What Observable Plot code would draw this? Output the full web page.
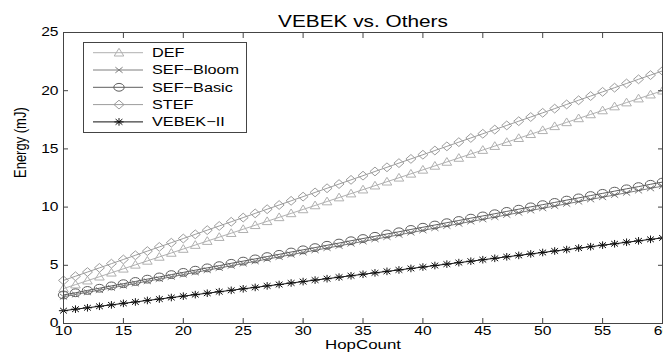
<!DOCTYPE html>
<html><head><meta charset="utf-8">
<script src="https://cdn.jsdelivr.net/npm/d3@7"></script>
<script src="https://cdn.jsdelivr.net/npm/@observablehq/plot@0.6"></script>
<style>
body{margin:0;background:#fff;}
#wrap{position:relative;width:663px;height:352px;overflow:hidden;font-family:"Liberation Sans",Arial,sans-serif;}
#wrap svg{display:block;}
#legend{position:absolute;left:83px;top:42px;}
</style></head><body><div id="wrap"></div>
<script>
const hopCounts = [10,11,12,13,14,15,16,17,18,19,20,21,22,23,24,25,26,27,28,29,30,31,32,33,34,35,36,37,38,39,40,41,42,43,44,45,46,47,48,49,50,51,52,53,54,55,56,57,58,59,60];
const seriesNames = ["DEF","SEF-Bloom","SEF-Basic","STEF","VEBEK-II"];
const defValues = [3.00,3.34,3.68,4.02,4.36,4.70,5.04,5.38,5.72,6.06,6.40,6.74,7.08,7.42,7.76,8.10,8.44,8.78,9.12,9.46,9.80,10.14,10.48,10.82,11.16,11.50,11.84,12.18,12.52,12.86,13.20,13.54,13.88,14.22,14.56,14.90,15.24,15.58,15.92,16.26,16.60,16.94,17.28,17.62,17.96,18.30,18.64,18.98,19.32,19.66,20.00];
const sefBloomValues = [2.30,2.49,2.68,2.87,3.06,3.25,3.44,3.63,3.82,4.01,4.20,4.39,4.58,4.77,4.96,5.15,5.34,5.53,5.72,5.91,6.10,6.29,6.48,6.67,6.86,7.05,7.24,7.43,7.62,7.81,8.00,8.19,8.38,8.57,8.76,8.95,9.14,9.33,9.52,9.71,9.90,10.09,10.28,10.47,10.66,10.85,11.04,11.23,11.42,11.61,11.80];
const sefBasicValues = [2.45,2.64,2.84,3.03,3.23,3.42,3.61,3.81,4.00,4.20,4.39,4.58,4.78,4.97,5.17,5.36,5.55,5.75,5.94,6.14,6.33,6.52,6.72,6.91,7.11,7.30,7.49,7.69,7.88,8.08,8.27,8.46,8.66,8.85,9.05,9.24,9.43,9.63,9.82,10.02,10.21,10.40,10.60,10.79,10.99,11.18,11.37,11.57,11.76,11.96,12.15];
const stefValues = [3.70,4.06,4.42,4.78,5.14,5.50,5.86,6.22,6.58,6.94,7.30,7.66,8.02,8.38,8.74,9.10,9.46,9.82,10.18,10.54,10.90,11.26,11.62,11.98,12.34,12.70,13.06,13.42,13.78,14.14,14.50,14.86,15.22,15.58,15.94,16.30,16.66,17.02,17.38,17.74,18.10,18.46,18.82,19.18,19.54,19.90,20.26,20.62,20.98,21.34,21.70];
const vebekValues = [1.10,1.23,1.35,1.48,1.60,1.73,1.85,1.98,2.10,2.23,2.35,2.48,2.60,2.73,2.85,2.98,3.10,3.23,3.35,3.48,3.60,3.73,3.85,3.98,4.10,4.23,4.35,4.48,4.60,4.73,4.85,4.98,5.10,5.23,5.35,5.48,5.60,5.73,5.85,5.98,6.10,6.23,6.35,6.48,6.60,6.73,6.85,6.98,7.10,7.23,7.35];
const xTicks = [10,15,20,25,30,35,40,45,50,55,60];
const yTicks = [0,5,10,15,20,25];
const titleText = "VEBEK vs. Others";
const xLabel = "HopCount";
const yLabel = "Energy (mJ)";

const K = 1.3; // horizontal stretch of the reference picture

const symTriangle = {draw(c){ c.moveTo(0,-4.4); c.lineTo(4.8,3.3); c.lineTo(-4.8,3.3); c.closePath(); }};
const symDiamond = {draw(c){ c.moveTo(0,-4.4); c.lineTo(5,0); c.lineTo(0,4.4); c.lineTo(-5,0); c.closePath(); }};
const symEllipse = {draw(c){ const rx=5.2, ry=3.9, k=0.5523; c.moveTo(rx,0); c.bezierCurveTo(rx,ry*k,rx*k,ry,0,ry); c.bezierCurveTo(-rx*k,ry,-rx,ry*k,-rx,0); c.bezierCurveTo(-rx,-ry*k,-rx*k,-ry,0,-ry); c.bezierCurveTo(rx*k,-ry,rx,-ry*k,rx,0); c.closePath(); }};
const symTimes = {draw(c){ c.moveTo(-3.6,-2.8); c.lineTo(3.6,2.8); c.moveTo(-3.6,2.8); c.lineTo(3.6,-2.8); }};
const symAsterisk = {draw(c){ c.moveTo(-4.6,0); c.lineTo(4.6,0); c.moveTo(0,-3.8); c.lineTo(0,3.8); c.moveTo(-3.4,-2.8); c.lineTo(3.4,2.8); c.moveTo(-3.4,2.8); c.lineTo(3.4,-2.8); }};

const seriesValues = [defValues, sefBloomValues, sefBasicValues, stefValues, vebekValues];
const seriesColors = ["#b0b0b0","#7e7e7e","#5e5e5e","#9c9c9c","#111111"];
const seriesSymbols = [symTriangle, symTimes, symEllipse, symDiamond, symAsterisk];

const marks = [];
seriesNames.forEach((name, i) => {
  const rows = hopCounts.map((h, j) => ({hop: h, energy: seriesValues[i][j]}));
  marks.push(Plot.line(rows, {x: "hop", y: "energy", stroke: seriesColors[i], strokeWidth: 1}));
  marks.push(Plot.dot(rows, {x: "hop", y: "energy", stroke: seriesColors[i], fill: "none", strokeWidth: 1, symbol: seriesSymbols[i]}));
});

const chart = Plot.plot({
  width: 663, height: 352,
  marginLeft: 63, marginRight: 1, marginTop: 32, marginBottom: 29,
  style: {fontFamily: "Liberation Sans, Arial, sans-serif", color: "#000", background: "#fff"},
  x: {domain: [10, 60]},
  y: {domain: [0, 25]},
  marks: [
    ...marks,
    Plot.frame({stroke: "#444"}),
    Plot.axisX(xTicks, {anchor: "bottom", tickSize: 0, tickPadding: 3, fontSize: 12, label: null, stroke: "#444"}),
    Plot.axisX(xTicks, {anchor: "bottom", tickSize: -5, tickFormat: () => "", label: null, stroke: "#444"}),
    Plot.axisX(xTicks, {anchor: "top", tickSize: -5, tickFormat: () => "", label: null, stroke: "#444"}),
    Plot.axisY(yTicks, {anchor: "left", tickSize: 0, tickPadding: 5, fontSize: 12, label: null, stroke: "#444"}),
    Plot.axisY(yTicks, {anchor: "left", tickSize: -5, tickFormat: () => "", label: null, stroke: "#444"}),
    Plot.axisY(yTicks, {anchor: "right", tickSize: -5, tickFormat: () => "", label: null, stroke: "#444"}),
    Plot.text([titleText], {frameAnchor: "top", dy: -17, fontSize: 16, fill: "#000"}),
    Plot.text([xLabel], {frameAnchor: "bottom", dy: 25, fontSize: 13, fill: "#000"}),
    Plot.text([yLabel], {frameAnchor: "left", dx: -43, rotate: -90, fontSize: 13, fill: "#000"})
  ]
});

function stretchTexts(root){
  root.querySelectorAll("text").forEach(t => {
    let tr = t.getAttribute("transform");
    if (!tr) {
      const x = +(t.getAttribute("x") || 0), y = +(t.getAttribute("y") || 0);
      t.removeAttribute("x"); t.removeAttribute("y");
      tr = `translate(${x},${y})`;
    }
    if (tr.includes("rotate")) tr = tr.replace("rotate", `scale(${K},1) rotate`);
    else tr = tr + ` scale(${K},1)`;
    t.setAttribute("transform", tr);
  });
}
stretchTexts(chart);

const wrap = document.getElementById("wrap");
wrap.appendChild(chart);

// legend
const lw = 164, lh = 91;
const leg = d3.create("svg").attr("id", "legend").attr("width", lw).attr("height", lh)
  .style("font-family", "Liberation Sans, Arial, sans-serif");
leg.append("rect").attr("x", 0.5).attr("y", 0.5).attr("width", lw - 1).attr("height", lh - 1)
  .attr("fill", "#fff").attr("stroke", "#444");
seriesNames.forEach((name, i) => {
  const y = 10.7 + i * 17.3;
  const g = leg.append("g").attr("transform", `translate(0,${y})`);
  g.append("line").attr("x1", 10).attr("x2", 60).attr("stroke", seriesColors[i]);
  g.append("path").attr("transform", "translate(36,0)").attr("d", d3.symbol(seriesSymbols[i])())
    .attr("fill", "none").attr("stroke", seriesColors[i]);
  g.append("text").attr("transform", `translate(69,0) scale(${K},1)`).attr("dy", "0.35em")
    .attr("font-size", 12.5).attr("fill", "#000").text(name.replace("-", "\u2212"));
});
wrap.appendChild(leg.node());
</script>
</body></html>
